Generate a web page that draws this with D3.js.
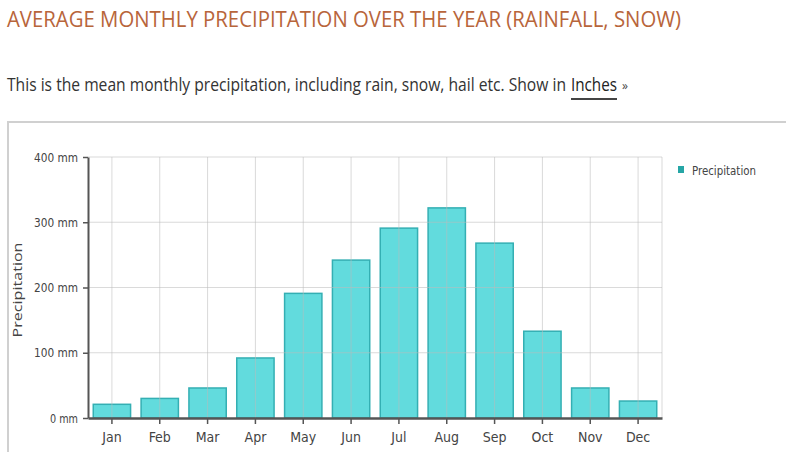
<!DOCTYPE html>
<html>
<head>
<meta charset="utf-8">
<script src="https://cdn.jsdelivr.net/npm/d3@7"></script>
<style>
  body { margin: 0; background: #fff; }
  svg { display: block; }
</style>
</head>
<body>
<div id="chart"></div>
<script>
// chart data
var months = ["Jan", "Feb", "Mar", "Apr", "May", "Jun", "Jul", "Aug", "Sep", "Oct", "Nov", "Dec"];
var precipitation = [21, 30, 46, 92, 191, 242, 291, 322, 268, 133, 46, 26];
var yTicks = [0, 100, 200, 300, 400];

var width = 786,
    height = 461;

// plot area edges (not called "top": that name is taken by window.top)
var plotLeft = 88, plotRight = 662, plotTop = 157, plotBottom = 418;

// narrow font for the axis texts
var narrow = "'Liberation Sans Narrow', 'DejaVu Sans Condensed', 'Open Sans', sans-serif";

var svg = d3.select("#chart")
            .append("svg")
            .attr("width", width)
            .attr("height", height)
            .style("font-family", "'Open Sans', sans-serif");

// page header
svg.append("text")
   .attr("x", 7).attr("y", 27)
   .attr("textLength", 674).attr("lengthAdjust", "spacingAndGlyphs")
   .style("font-size", "21px")
   .style("font-weight", 500)
   .style("fill", "#b8653b")
   .text("AVERAGE MONTHLY PRECIPITATION OVER THE YEAR (RAINFALL, SNOW)");

svg.append("text")
   .attr("x", 7).attr("y", 91)
   .attr("textLength", 559).attr("lengthAdjust", "spacingAndGlyphs")
   .style("font-size", "18px").style("fill", "#333")
   .text("This is the mean monthly precipitation, including rain, snow, hail etc. Show in");
svg.append("text")
   .attr("x", 571).attr("y", 91)
   .attr("textLength", 46).attr("lengthAdjust", "spacingAndGlyphs")
   .style("font-size", "18px").style("fill", "#222")
   .text("Inches");
svg.append("text")
   .attr("x", 622).attr("y", 90)
   .style("font-size", "12px").style("fill", "#444")
   .text("\u00bb");

svg.append("line")
   .attr("x1", 571).attr("x2", 617).attr("y1", 99).attr("y2", 99)
   .style("stroke", "#444").style("stroke-width", 2);

// container box (top and left edges are visible)
svg.append("path")
   .attr("d", "M8,452V122H786")
   .style("fill", "none").style("stroke", "#d0d0d0").style("stroke-width", 2);

var x = d3.scaleBand().domain(months).range([plotLeft, plotRight]).paddingInner(0.22).paddingOuter(0.11);
var y = d3.scaleLinear().domain([0, 400]).range([plotBottom, plotTop]);

// bars
svg.append("g").selectAll("rect")
   .data(precipitation)
   .enter()
   .append("rect")
   .attr("x", function(d, i) { return x(months[i]); })
   .attr("width", x.bandwidth())
   .attr("y", function(d) { return y(d); })
   .attr("height", function(d) { return y(0) - y(d); })
   .style("fill", "#62dbdd")
   .style("stroke", "#34afb3")
   .style("stroke-width", 1.5);

// grid lines drawn over bars, faint
var grid = svg.append("g").style("stroke", "#bbb").style("stroke-opacity", 0.55);
grid.selectAll(".h").data(yTicks.slice(1)).enter().append("line")
    .attr("x1", plotLeft).attr("x2", plotRight)
    .attr("y1", function(d) { return y(d); }).attr("y2", function(d) { return y(d); });
grid.selectAll(".v").data(months).enter().append("line")
    .attr("x1", function(d) { return x(d) + x.bandwidth() / 2; })
    .attr("x2", function(d) { return x(d) + x.bandwidth() / 2; })
    .attr("y1", plotTop).attr("y2", plotBottom);
grid.append("line").attr("x1", plotRight).attr("x2", plotRight).attr("y1", plotTop).attr("y2", plotBottom);

// y axis
var yAxis = svg.append("g")
   .attr("transform", "translate(" + plotLeft + ",0)")
   .call(d3.axisLeft(y).tickValues(yTicks).tickSize(5).tickSizeOuter(0)
           .tickFormat(function(d) { return d + " mm"; }));
yAxis.select(".domain").style("stroke", "#555").style("stroke-width", 2);
yAxis.selectAll(".tick line").style("stroke", "#555").style("stroke-width", 1.5);
yAxis.selectAll(".tick text")
     .attr("x", -10)
     .style("font-size", "13px").style("fill", "#444")
     .style("font-family", narrow)
     .attr("textLength", function(d) { return d === 0 ? 28 : 44; })
     .attr("lengthAdjust", "spacingAndGlyphs");

// x axis
var xAxis = svg.append("g")
   .attr("transform", "translate(0," + plotBottom + ")")
   .call(d3.axisBottom(x).tickSize(6).tickSizeOuter(0));
xAxis.select(".domain").style("stroke", "#555").style("stroke-width", 2.5);
xAxis.selectAll(".tick line").style("stroke", "#555").style("stroke-width", 1.5);
xAxis.selectAll(".tick text")
     .attr("y", 14)
     .style("font-size", "14px").style("fill", "#444")
     .style("font-family", narrow);

// y axis title
svg.append("text")
   .attr("transform", "translate(22,290) rotate(-90)")
   .attr("text-anchor", "middle")
   .attr("textLength", 95).attr("lengthAdjust", "spacingAndGlyphs")
   .style("font-size", "13px").style("fill", "#444")
   .text("Precipitation");

// legend
svg.append("rect")
   .attr("x", 678).attr("y", 166).attr("width", 6).attr("height", 7)
   .style("fill", "#26a6a6");
svg.append("text")
   .attr("x", 692).attr("y", 175)
   .attr("textLength", 64).attr("lengthAdjust", "spacingAndGlyphs")
   .style("font-size", "13px").style("fill", "#444")
   .style("font-family", narrow)
   .text("Precipitation");
</script>
</body>
</html>
